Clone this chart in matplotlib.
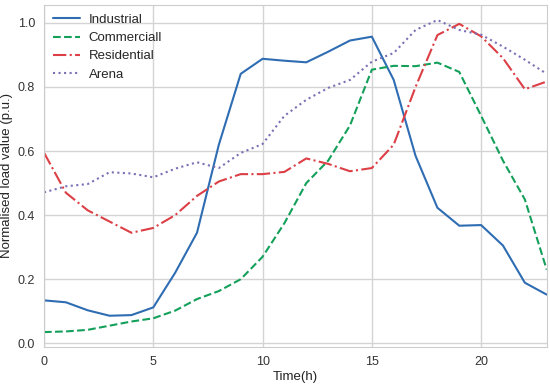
import numpy as np
import matplotlib
matplotlib.use("Agg")
import matplotlib.pyplot as plt
import seaborn as sns

# ---------- DATA ----------
hours = list(range(24))

industrial = [0.134, 0.128, 0.103, 0.086, 0.088, 0.112, 0.220, 0.345,
              0.620, 0.841, 0.888, 0.882, 0.877, 0.910, 0.945, 0.957,
              0.822, 0.585, 0.423, 0.367, 0.369, 0.305, 0.189, 0.152]

commercial = [0.035, 0.037, 0.042, 0.055, 0.068, 0.078, 0.102, 0.138,
              0.163, 0.200, 0.270, 0.375, 0.500, 0.570, 0.680, 0.854,
              0.866, 0.865, 0.876, 0.847, 0.710, 0.570, 0.449, 0.230]

residential = [0.595, 0.470, 0.415, 0.380, 0.345, 0.360, 0.400, 0.460,
               0.505, 0.528, 0.528, 0.535, 0.577, 0.560, 0.537, 0.547,
               0.620, 0.800, 0.962, 0.997, 0.958, 0.890, 0.793, 0.817]

arena = [0.471, 0.490, 0.497, 0.534, 0.530, 0.518, 0.545, 0.565,
         0.547, 0.594, 0.622, 0.710, 0.760, 0.797, 0.822, 0.879,
         0.906, 0.978, 1.009, 0.978, 0.963, 0.926, 0.885, 0.841]

# ---------- PLOT ----------
sns.set_style("whitegrid")
plt.rcParams['font.family'] = ['Liberation Sans', 'DejaVu Sans']

fig = plt.figure(figsize=(5.5, 3.87), dpi=100)
ax = fig.add_axes([0.080, 0.103, 0.914, 0.885])

ax.plot(hours, industrial, color='#2f6db3', linestyle='-', lw=1.5, label='Industrial')
ax.plot(hours, commercial, color='#14a05a', linestyle='--', lw=1.5, label='Commerciall')
ax.plot(hours, residential, color='#dc3f45', linestyle='-.', lw=1.5, label='Residential')
ax.plot(hours, arena, color='#7a70b5', linestyle=':', lw=1.5, label='Arena')

ax.set_xlim(0, 23)
ax.set_ylim(-0.012, 1.057)
ax.set_xticks([0, 5, 10, 15, 20])
ax.set_yticks([0.0, 0.2, 0.4, 0.6, 0.8, 1.0])
ax.tick_params(labelsize=9, colors='#333333', pad=3)
ax.grid(color='#d4d4d4', lw=1.0)

ax.set_xlabel("Time(h)", fontsize=9.5, color='#222222', labelpad=2)
ax.set_ylabel("Normalised load value (p.u.)", fontsize=9.5, color='#222222', labelpad=3)

ax.legend(loc='upper left', fontsize=9.5, frameon=False, handlelength=2.0,
          handletextpad=0.7, borderaxespad=0.3, labelspacing=0.45)

fig.savefig("out.png", dpi=100)
